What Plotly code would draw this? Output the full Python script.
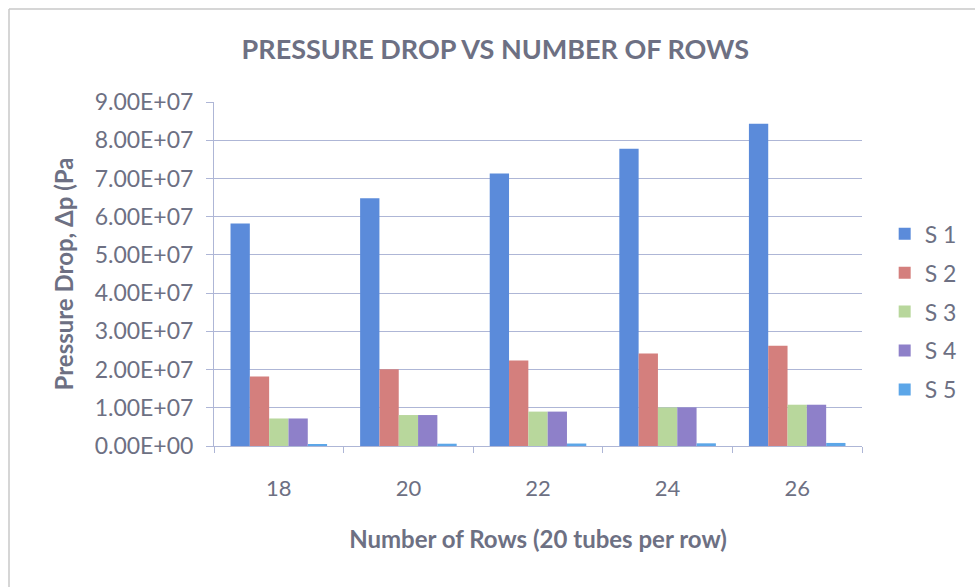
import plotly.graph_objects as go

# Number of tube rows (20 tubes per row)
rows = ["18", "20", "22", "24", "26"]

# Pressure drop per arrangement, Pa
s1 = [5.82e7, 6.48e7, 7.13e7, 7.78e7, 8.43e7]
s2 = [1.82e7, 2.01e7, 2.24e7, 2.42e7, 2.62e7]
s3 = [0.72e7, 0.81e7, 0.90e7, 1.01e7, 1.08e7]
s4 = [0.72e7, 0.81e7, 0.90e7, 1.01e7, 1.08e7]
s5 = [0.05e7, 0.06e7, 0.065e7, 0.07e7, 0.08e7]

series_names = ["S 1", "S 2", "S 3", "S 4", "S 5"]
series_values = [s1, s2, s3, s4, s5]
series_colors = ["#5B8BDA", "#D47F7D", "#B8D79C", "#8E80C9", "#5CA6E8"]

y_ticks = [i * 1.0e7 for i in range(10)]

FONT = "Lato"
TEXT = "#6D7083"
GRID = "#AEB6D6"

fig = go.Figure()
for i, (name, vals, col) in enumerate(zip(series_names, series_values, series_colors)):
    fig.add_trace(go.Bar(
        x=rows, y=vals, name=name, marker_color=col,
        marker_line_width=0, legendgroup=f"g{i}",
    ))

fig.update_layout(
    width=975, height=587,
    margin=dict(l=214, r=113, t=102, b=141),
    paper_bgcolor="white", plot_bgcolor="white",
    barmode="group", bargap=0.255, bargroupgap=0,
    font=dict(family=FONT, color=TEXT, size=22),
    title=dict(
        text="<b>PRESSURE DROP VS NUMBER OF ROWS</b>",
        x=0.508, xanchor="center", y=1 - 50 / 587, yanchor="middle",
        yref="container", xref="container",
        font=dict(family=FONT, size=27, color=TEXT),
    ),
    legend=dict(
        x=1.035, xanchor="left", y=0.39, yanchor="middle",
        font=dict(family=FONT, size=23, color=TEXT),
        tracegroupgap=6, bgcolor="rgba(0,0,0,0)",
    ),
    showlegend=True,
)

fig.update_xaxes(
    type="category",
    showgrid=False,
    showline=True, linecolor=GRID, linewidth=1,
    ticks="outside", tickson="boundaries", ticklen=6, tickcolor=GRID,
    ticklabelstandoff=23,
    tickfont=dict(family=FONT, size=22, color=TEXT),
    title=dict(text="<b>Number of Rows (20 tubes per row)</b>", standoff=30,
               font=dict(family=FONT, size=24, color=TEXT)),
)

fig.update_yaxes(
    range=[0, 9.0e7],
    tickvals=y_ticks,
    ticktext=[f"{v:.2E}" for v in y_ticks],
    showgrid=True, gridcolor=GRID, gridwidth=1,
    showline=True, linecolor=GRID, linewidth=1,
    ticks="outside", ticklen=7, tickcolor=GRID,
    ticklabelstandoff=8,
    tickfont=dict(family=FONT, size=23, color=TEXT),
    zeroline=False,
    title=dict(text="<b>Pressure Drop, Δp (Pa</b>", standoff=14,
               font=dict(family=FONT, size=24, color=TEXT)),
)

# Chart-area frame (left and top edges)
px_w, px_h = 648.0, 344.0
left_px, top_px = 9, 9
fx = (left_px - 214) / px_w
fy = (446 - top_px) / px_h
fig.add_shape(type="line", xref="paper", yref="paper",
              x0=fx, x1=fx, y0=fy, y1=(446 - 590) / px_h,
              line=dict(color="#C8C8C8", width=1.5))
fig.add_shape(type="line", xref="paper", yref="paper",
              x0=fx, x1=(985 - 214) / px_w, y0=fy, y1=fy,
              line=dict(color="#C8C8C8", width=1.5))

fig.write_html("out.html")
